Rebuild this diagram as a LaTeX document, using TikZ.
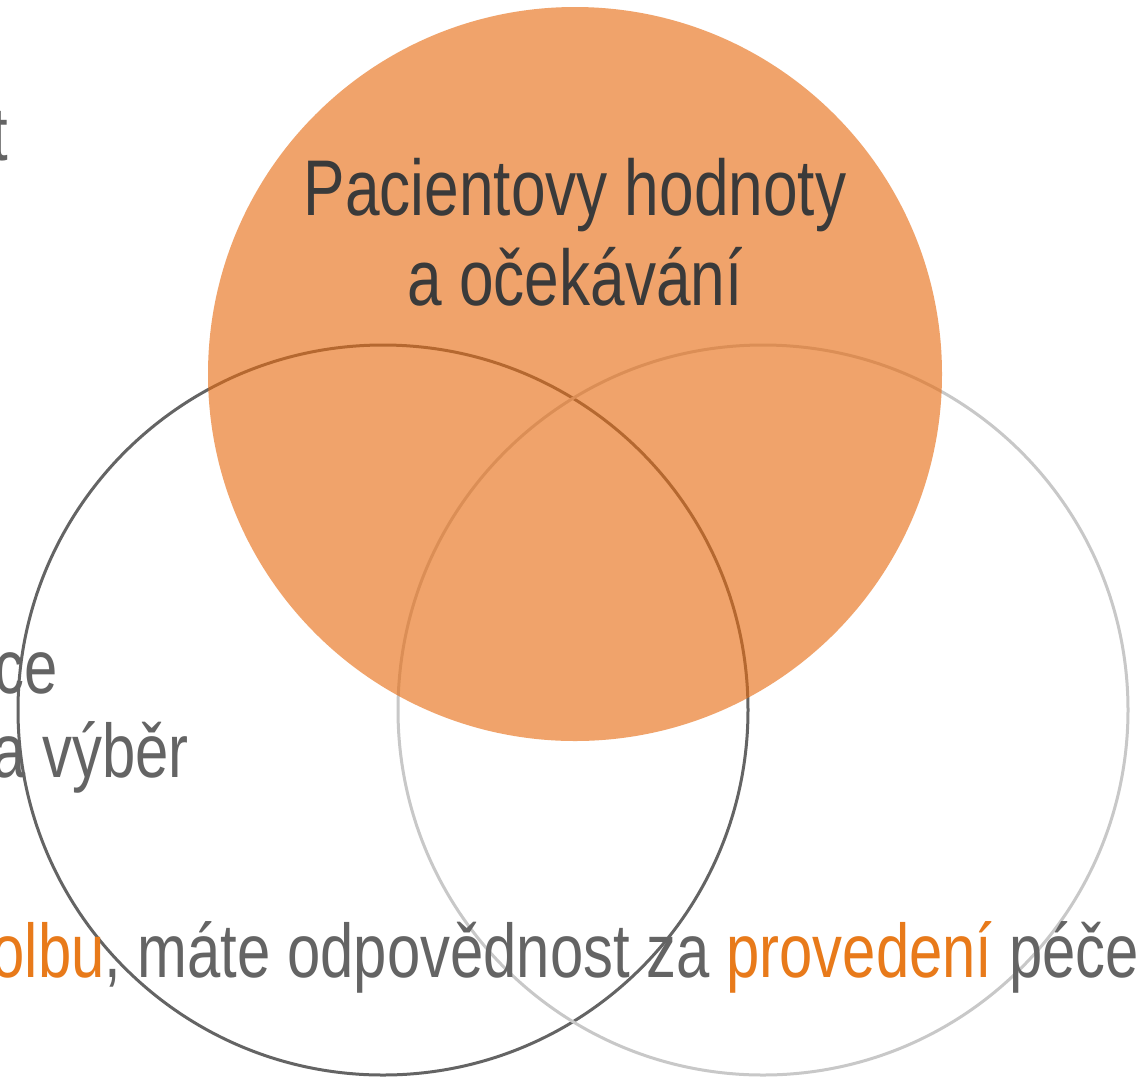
\documentclass[tikz,border=0pt]{standalone}
\usepackage{fontspec}
\setmainfont[FakeStretch=0.787]{Liberation Sans}
\definecolor{ringdark}{HTML}{646464}
\definecolor{ringlight}{HTML}{C8C8C8}
\definecolor{orangefill}{RGB}{231,108,17}
\definecolor{txtdark}{HTML}{3A3A3A}
\definecolor{txtgray}{HTML}{646464}
\definecolor{txtorange}{HTML}{E87A1A}
\tikzset{
  ring/.style={line width=3pt},
  bigtxt/.style={inner sep=0pt, font=\fontsize{79}{90}\selectfont},
  midtxt/.style={inner sep=0pt, font=\fontsize{76}{86}\selectfont, text=txtgray},
}
\begin{document}
\begin{tikzpicture}[x=1pt,y=-1pt]
\useasboundingbox[fill=white] (0,0) rectangle (1140,1077);
% outline circles
\draw[ring, draw=ringdark] (383,710) circle[radius=365];
\draw[ring, draw=ringlight] (763,710) circle[radius=365];
% filled top circle
\fill[orangefill, fill opacity=0.62] (575,374) circle[radius=367];
% texts
\node[bigtxt, text=txtdark, anchor=base] (t1) at (575,215) {Pacientovy hodnoty};
\node[bigtxt, text=txtdark, anchor=base] (t2) at (575,305) {a očekávání};
\node[midtxt, anchor=base east] (l0) at (8,160) {t};
\node[midtxt, anchor=base east] (l1) at (58,693) {ce};
\node[midtxt, anchor=base east] (l2) at (189,777) {a výběr};
\node[midtxt, anchor=base east] (b1) at (1139,977) {\textcolor{txtorange}{olbu}, máte odpovědnost za \textcolor{txtorange}{provedení} péče};
\end{tikzpicture}
\end{document}
